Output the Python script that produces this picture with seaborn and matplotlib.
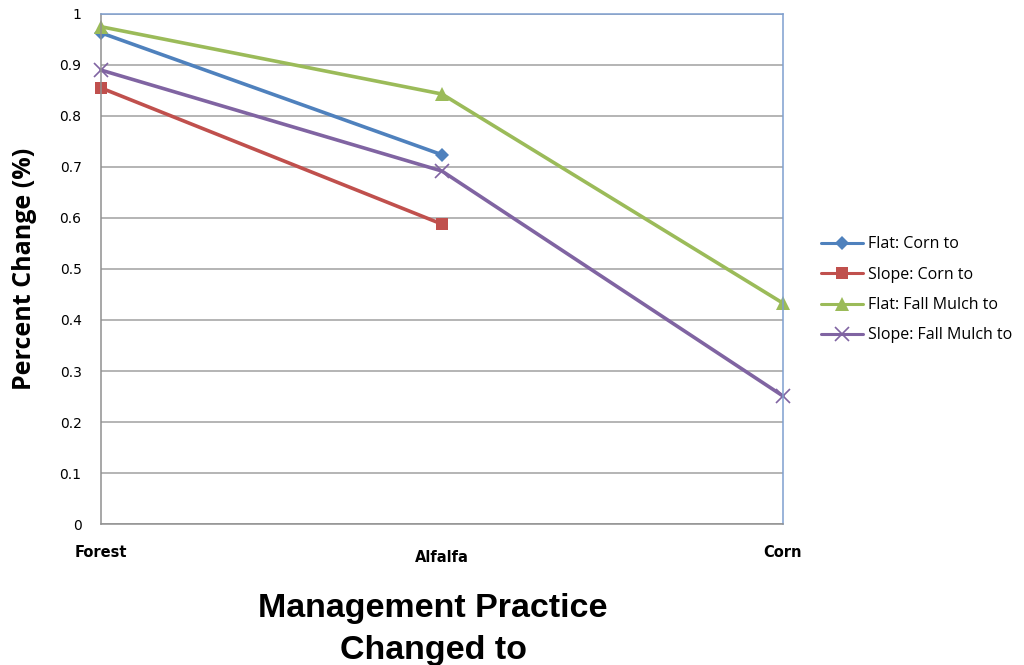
import numpy as np
import pandas as pd
import matplotlib
matplotlib.use("Agg")
import matplotlib.pyplot as plt
import matplotlib.transforms as mtransforms
import seaborn as sns

# Management practice each scenario was changed to
categories = ["Forest", "Alfalfa", "Corn"]

# Percent change for each scenario (NaN = not evaluated)
flat_corn = [0.963, 0.724, np.nan]
slope_corn = [0.855, 0.588, np.nan]
flat_fall_mulch = [0.975, 0.843, 0.433]
slope_fall_mulch = [0.890, 0.692, 0.251]

series_names = ["Flat: Corn to", "Slope: Corn to", "Flat: Fall Mulch to", "Slope: Fall Mulch to"]
series_values = [flat_corn, slope_corn, flat_fall_mulch, slope_fall_mulch]

y_ticks = [0, 0.1, 0.2, 0.3, 0.4, 0.5, 0.6, 0.7, 0.8, 0.9, 1]
y_tick_labels = ["0", "0.1", "0.2", "0.3", "0.4", "0.5", "0.6", "0.7", "0.8", "0.9", "1"]

rows = []
for name, vals in zip(series_names, series_values):
    for i, (cat, v) in enumerate(zip(categories, vals)):
        if not np.isnan(v):
            rows.append({"pos": i, "practice": cat, "value": v, "series": name})
df = pd.DataFrame(rows)

palette = {
    "Flat: Corn to": "#4F81BD",
    "Slope: Corn to": "#C0504D",
    "Flat: Fall Mulch to": "#9BBB59",
    "Slope: Fall Mulch to": "#8064A2",
}
markers = {
    "Flat: Corn to": "D",
    "Slope: Corn to": "s",
    "Flat: Fall Mulch to": "^",
    "Slope: Fall Mulch to": "x",
}
marker_sizes = {
    "Flat: Corn to": 7,
    "Slope: Corn to": 9,
    "Flat: Fall Mulch to": 10,
    "Slope: Fall Mulch to": 10,
}

sns.set_style("white")
plt.rcParams["text.color"] = "black"
plt.rcParams["axes.labelcolor"] = "black"
plt.rcParams["xtick.color"] = "black"
plt.rcParams["ytick.color"] = "black"

fig = plt.figure(figsize=(10.24, 6.65), dpi=100)
ax = fig.add_axes([0.0986, 0.212, 0.666, 0.767])

for name in series_names:
    sub = df[df["series"] == name]
    sns.lineplot(
        data=sub, x="pos", y="value", ax=ax, color=palette[name],
        marker=markers[name], markersize=marker_sizes[name], linewidth=2.6,
        markeredgewidth=1.2 if markers[name] == "x" else 0,
        markeredgecolor=palette[name], label=name, clip_on=False,
    )

ax.set_xlim(0, 2)
ax.set_ylim(0, 1)
ax.set_yticks(y_ticks)
ax.set_yticklabels(y_tick_labels, fontsize=10, family="DejaVu Sans")
ax.set_xticks(range(len(categories)))
ax.set_xticklabels(categories, fontsize=10.5, fontweight="bold", family="DejaVu Sans")
ax.tick_params(axis="y", length=0, pad=14)
ax.tick_params(axis="x", length=0, pad=15)
# middle category label sits a little lower
mid = ax.get_xticklabels()[1]
mid.set_transform(mid.get_transform() + mtransforms.ScaledTranslation(0, -5 / 100, fig.dpi_scale_trans))

ax.grid(axis="y", color="#A0A0A0", linewidth=1.1)
ax.set_axisbelow(True)
for side in ["left", "bottom"]:
    ax.spines[side].set_color("#909090")
    ax.spines[side].set_linewidth(1.1)
for side in ["top", "right"]:
    ax.spines[side].set_color("#7F9FCF")
    ax.spines[side].set_linewidth(1.1)

ax.set_ylabel("Percent Change (%)", fontsize=18, fontweight="bold",
              family="Open Sans", labelpad=16)
ax.set_xlabel("Management Practice\nChanged to", fontsize=24.5, fontweight="bold",
              family="Liberation Sans", linespacing=1.45)
ax.xaxis.set_label_coords(0.487, -0.136)
ax.xaxis.label.set_va("top")

leg = ax.legend(loc="center left", bbox_to_anchor=(1.035, 0.459), frameon=False,
                fontsize=11.5, handlelength=2.6, labelspacing=0.9, handletextpad=0.3)
for t in leg.get_texts():
    t.set_family("Open Sans")
for h in leg.legend_handles:
    h.set_linewidth(2.2)

fig.savefig("out.png", dpi=100)
